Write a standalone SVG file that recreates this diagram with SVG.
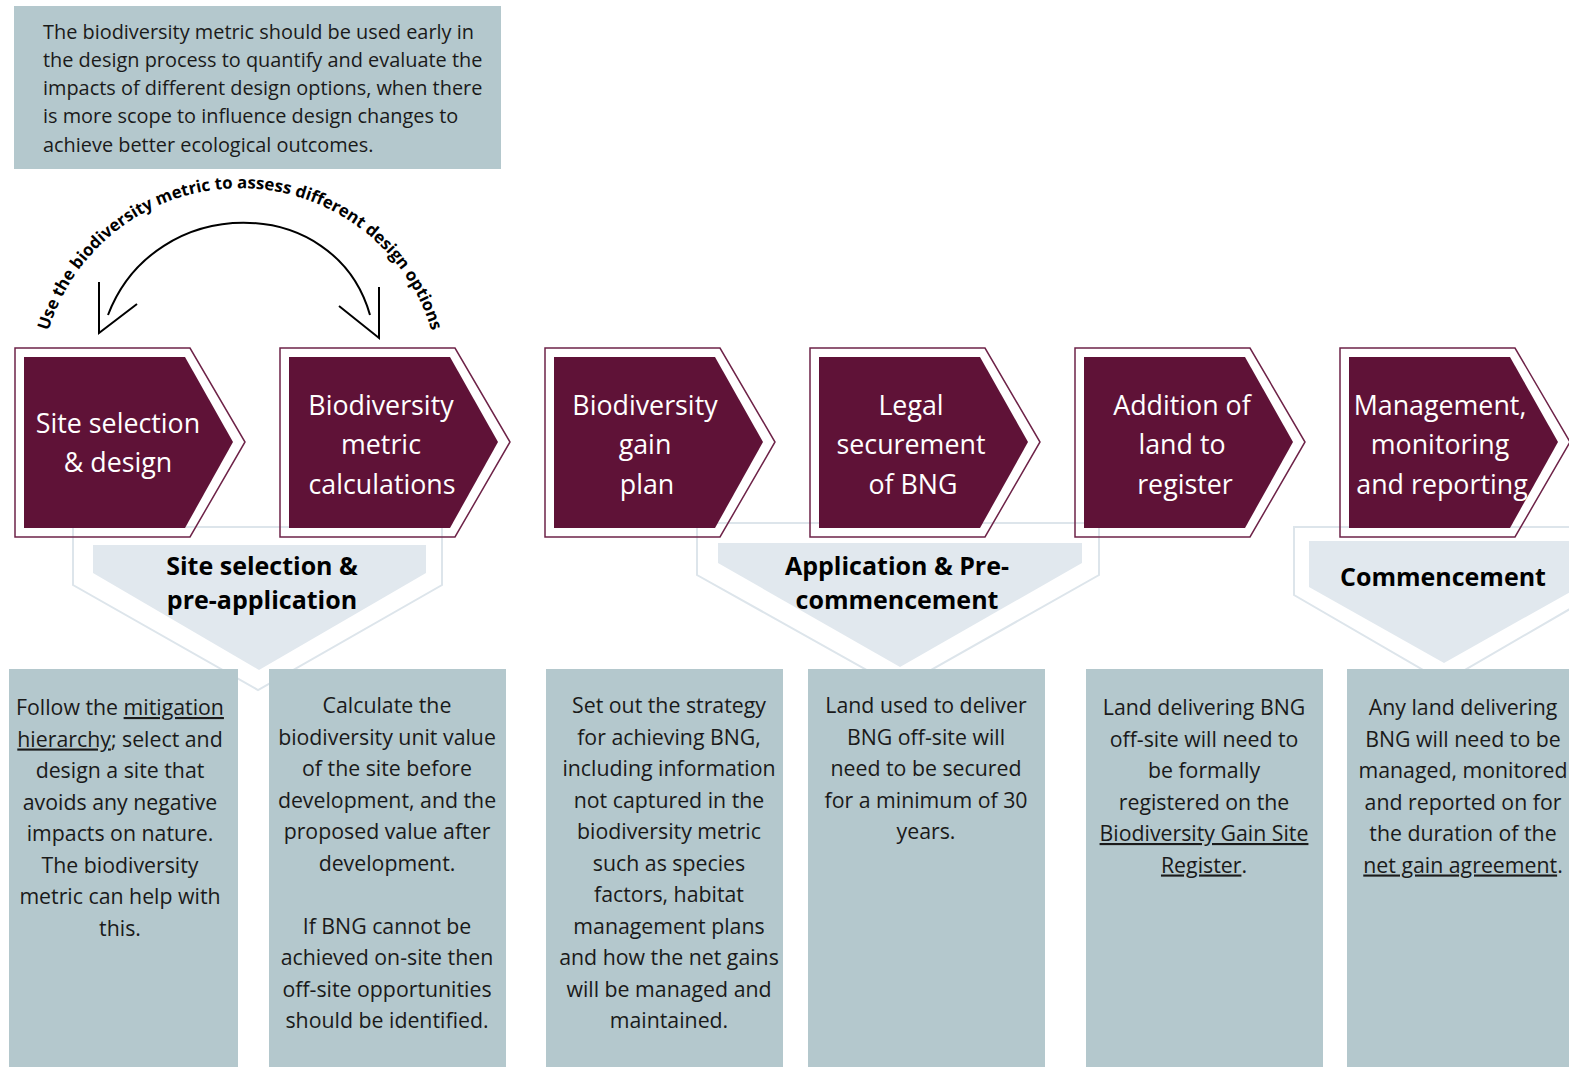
<svg xmlns="http://www.w3.org/2000/svg" width="1569" height="1067" viewBox="0 0 1569 1067">
<defs>
<style>
text{font-family:"Open Sans","Noto Sans","Liberation Sans",sans-serif;}
.box{fill:#b4c8cd;}
.body{font-size:21.3px;fill:#1a1a1a;text-anchor:middle;}
.top{font-size:19.9px;fill:#1a1a1a;}
.chev-out{fill:none;stroke:#6e2348;stroke-width:1.5;}
.chev-in{fill:#5f1237;}
.chev-t{font-size:26.8px;fill:#ffffff;text-anchor:middle;}
.ph-out{fill:none;stroke:#dde5eb;stroke-width:2;}
.ph-in{fill:#e1e8ee;}
.ph-t{font-size:25px;font-weight:700;fill:#000;text-anchor:middle;}
.u{text-decoration:underline;}
.arc{fill:none;stroke:#000;stroke-width:2;}
</style>
<path id="txtArc" d="M42,360 A200,200 0 0 1 438,360"/>
</defs>
<rect width="1569" height="1067" fill="#ffffff"/>

<g id="intro">
<rect class="box" x="14" y="6" width="487" height="163"/>
<text class="top" x="43" y="38.5">The biodiversity metric should be used early in</text>
<text class="top" x="43" y="66.8">the design process to quantify and evaluate the</text>
<text class="top" x="43" y="95.1">impacts of different design options, when there</text>
<text class="top" x="43" y="123.4">is more scope to influence design changes to</text>
<text class="top" x="43" y="151.7">achieve better ecological outcomes.</text>
</g>

<g id="phases">
<g id="phase-site">
<path class="ph-out" d="M73,527 H442 V585 L258,690 L73,585 Z"/>
<path class="ph-in" d="M93,545 H426 V573 L259,670 L93,573 Z"/>
<text class="ph-t" x="262" y="575">Site selection &amp;</text>
<text class="ph-t" x="262" y="609">pre-application</text>
</g>
<g id="phase-application">
<path class="ph-out" d="M697,523 H1099 V575 L899,688 L697,575 Z"/>
<path class="ph-in" d="M718,543 H1082 V563 L900,667 L718,563 Z"/>
<text class="ph-t" x="897" y="575">Application &amp; Pre-</text>
<text class="ph-t" x="897" y="609">commencement</text>
</g>
<g id="phase-commencement">
<path class="ph-out" d="M1294,527 H1594 V595 L1444,682 L1294,595 Z"/>
<path class="ph-in" d="M1309,541 H1579 V587 L1444,663 L1309,587 Z"/>
<text class="ph-t" x="1443" y="586">Commencement</text>
</g>
</g>

<g id="step1">
<path class="chev-out" d="M15,348 H190 L245,442 L190,537 H15 Z"/>
<path class="chev-in" d="M24,357 H185 L233,442 L185,528 H24 Z"/>
<text class="chev-t" x="118" y="433">Site selection</text>
<text class="chev-t" x="118" y="472">&amp; design</text>
</g>
<g id="step2">
<path class="chev-out" d="M280,348 H455 L510,442 L455,537 H280 Z"/>
<path class="chev-in" d="M289,357 H450 L498,442 L450,528 H289 Z"/>
<text class="chev-t" x="381" y="415">Biodiversity</text>
<text class="chev-t" x="381" y="454">metric</text>
<text class="chev-t" x="382" y="494">calculations</text>
</g>
<g id="step3">
<path class="chev-out" d="M545,348 H720 L775,442 L720,537 H545 Z"/>
<path class="chev-in" d="M554,357 H715 L763,442 L715,528 H554 Z"/>
<text class="chev-t" x="645" y="415">Biodiversity</text>
<text class="chev-t" x="645" y="454">gain</text>
<text class="chev-t" x="647" y="494">plan</text>
</g>
<g id="step4">
<path class="chev-out" d="M810,348 H985 L1040,442 L985,537 H810 Z"/>
<path class="chev-in" d="M819,357 H980 L1028,442 L980,528 H819 Z"/>
<text class="chev-t" x="911" y="415">Legal</text>
<text class="chev-t" x="911" y="454">securement</text>
<text class="chev-t" x="913" y="494">of BNG</text>
</g>
<g id="step5">
<path class="chev-out" d="M1075,348 H1250 L1305,442 L1250,537 H1075 Z"/>
<path class="chev-in" d="M1084,357 H1245 L1293,442 L1245,528 H1084 Z"/>
<text class="chev-t" x="1182" y="415">Addition of</text>
<text class="chev-t" x="1182" y="454">land to</text>
<text class="chev-t" x="1185" y="494">register</text>
</g>
<g id="step6">
<path class="chev-out" d="M1340,348 H1515 L1570,442 L1515,537 H1340 Z"/>
<path class="chev-in" d="M1349,357 H1510 L1558,442 L1510,528 H1349 Z"/>
<text class="chev-t" x="1440" y="415">Management,</text>
<text class="chev-t" x="1440" y="454">monitoring</text>
<text class="chev-t" x="1442" y="494">and reporting</text>
</g>

<g id="connectors">
<path class="arc" d="M108,315 C155,192 335,192 370,315"/>
<path class="arc" d="M99,282 V333 L137,304"/>
<path class="arc" d="M379,287 V338 L339,306"/>
<text font-size="16.8" font-weight="700" fill="#000" text-anchor="middle"><textPath href="#txtArc" startOffset="50%">Use the biodiversity metric to assess different design options</textPath></text>
</g>

<g id="desc1">
<rect class="box" x="9" y="669" width="229" height="398"/>
<text class="body" x="120" y="715"><tspan>Follow the </tspan><tspan class="u">mitigation</tspan></text>
<text class="body" x="120" y="746.5"><tspan class="u">hierarchy</tspan><tspan>; select and</tspan></text>
<text class="body" x="120" y="778">design a site that</text>
<text class="body" x="120" y="809.5">avoids any negative</text>
<text class="body" x="120" y="841">impacts on nature.</text>
<text class="body" x="120" y="872.5">The biodiversity</text>
<text class="body" x="120" y="904">metric can help with</text>
<text class="body" x="120" y="935.5">this.</text>
</g>
<g id="desc2">
<rect class="box" x="269" y="669" width="237" height="398"/>
<text class="body" x="387" y="713">Calculate the</text>
<text class="body" x="387" y="744.5">biodiversity unit value</text>
<text class="body" x="387" y="776">of the site before</text>
<text class="body" x="387" y="807.5">development, and the</text>
<text class="body" x="387" y="839">proposed value after</text>
<text class="body" x="387" y="870.5">development.</text>
<text class="body" x="387" y="933.5">If BNG cannot be</text>
<text class="body" x="387" y="965">achieved on-site then</text>
<text class="body" x="387" y="996.5">off-site opportunities</text>
<text class="body" x="387" y="1028">should be identified.</text>
</g>
<g id="desc3">
<rect class="box" x="546" y="669" width="237" height="398"/>
<text class="body" x="669" y="713">Set out the strategy</text>
<text class="body" x="669" y="744.5">for achieving BNG,</text>
<text class="body" x="669" y="776">including information</text>
<text class="body" x="669" y="807.5">not captured in the</text>
<text class="body" x="669" y="839">biodiversity metric</text>
<text class="body" x="669" y="870.5">such as species</text>
<text class="body" x="669" y="902">factors, habitat</text>
<text class="body" x="669" y="933.5">management plans</text>
<text class="body" x="669" y="965">and how the net gains</text>
<text class="body" x="669" y="996.5">will be managed and</text>
<text class="body" x="669" y="1028">maintained.</text>
</g>
<g id="desc4">
<rect class="box" x="808" y="669" width="237" height="398"/>
<text class="body" x="926" y="713">Land used to deliver</text>
<text class="body" x="926" y="744.5">BNG off-site will</text>
<text class="body" x="926" y="776">need to be secured</text>
<text class="body" x="926" y="807.5">for a minimum of 30</text>
<text class="body" x="926" y="839">years.</text>
</g>
<g id="desc5">
<rect class="box" x="1086" y="669" width="237" height="398"/>
<text class="body" x="1204" y="715">Land delivering BNG</text>
<text class="body" x="1204" y="746.5">off-site will need to</text>
<text class="body" x="1204" y="778">be formally</text>
<text class="body" x="1204" y="809.5">registered on the</text>
<text class="body u" x="1204" y="841">Biodiversity Gain Site</text>
<text class="body" x="1204" y="872.5"><tspan class="u">Register</tspan><tspan>.</tspan></text>
</g>
<g id="desc6">
<rect class="box" x="1347" y="669" width="232" height="398"/>
<text class="body" x="1463" y="715">Any land delivering</text>
<text class="body" x="1463" y="746.5">BNG will need to be</text>
<text class="body" x="1463" y="778">managed, monitored</text>
<text class="body" x="1463" y="809.5">and reported on for</text>
<text class="body" x="1463" y="841">the duration of the</text>
<text class="body" x="1463" y="872.5"><tspan class="u">net gain agreement</tspan><tspan>.</tspan></text>
</g>
</svg>
